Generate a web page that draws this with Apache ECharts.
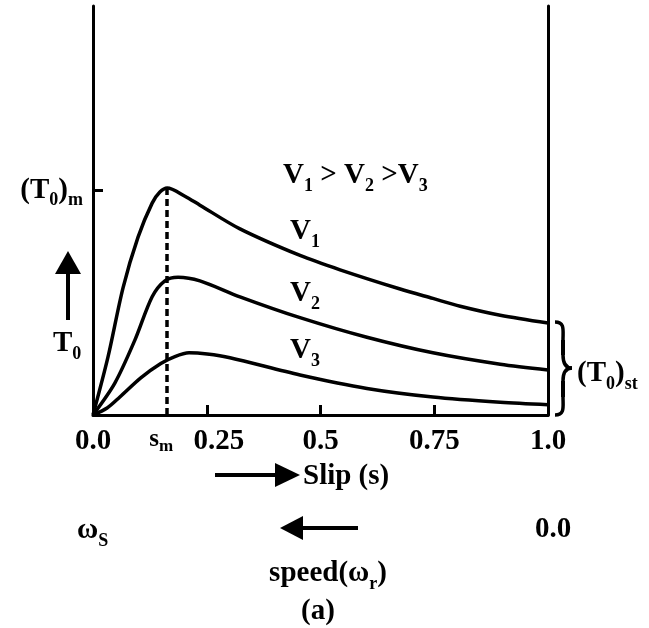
<!DOCTYPE html>
<html>
<head>
<meta charset="utf-8">
<script src="https://cdn.jsdelivr.net/npm/echarts@6/dist/echarts.min.js"></script>
<style>
  html, body { margin: 0; padding: 0; background: #fff; }
  #main { width: 649px; height: 628px; }
</style>
</head>
<body>
<div id="main"></div>
<script>
  // slip / torque points (torque in arbitrary units, axis 0..10)
  var slipV1 = [0, 0.033, 0.066, 0.099, 0.130, 0.147, 0.163, 0.202, 0.235, 0.323, 0.455, 0.543, 0.675, 0.747, 0.807, 0.895, 1.0];
  var torqueV1 = [0, 1.42, 3.11, 4.35, 5.18, 5.45, 5.55, 5.35, 5.13, 4.55, 3.90, 3.55, 3.08, 2.85, 2.66, 2.44, 2.25];
  var slipV2 = [0, 0.048, 0.092, 0.130, 0.158, 0.187, 0.235, 0.323, 0.455, 0.602, 0.747, 0.895, 1.0];
  var torqueV2 = [0, 0.78, 1.83, 2.89, 3.28, 3.37, 3.28, 2.89, 2.38, 1.90, 1.52, 1.24, 1.10];
  var slipV3 = [0, 0.031, 0.059, 0.105, 0.149, 0.180, 0.211, 0.251, 0.301, 0.455, 0.602, 0.747, 0.895, 1.0];
  var torqueV3 = [0, 0.17, 0.44, 0.91, 1.26, 1.43, 1.52, 1.49, 1.40, 0.98, 0.65, 0.44, 0.31, 0.25];

  var sM = 0.163;        // slip at max torque
  var tMax = 5.55;       // peak of V1
  var tMaxTick = 5.5;    // (T0)m tick
  var slipTicks = [0.25, 0.5, 0.75];
  var slipLabelValues = [0, sM, 0.25, 0.5, 0.75, 1];
  var slipLabelText = ['0.0', '{s|s}{m|m}', '{q|0.25}', '0.5', '0.75', '1.0'];

  var FONT = 'Liberation Serif';
  var rich = {
    n: { fontFamily: FONT, fontWeight: 'bold', fontSize: 29, color: '#000' },
    b: { fontFamily: FONT, fontWeight: 'bold', fontSize: 18, color: '#000', padding: [20, 0, 0, 0] },
    s: { fontFamily: FONT, fontWeight: 'bold', fontSize: 25, color: '#000', padding: [0, 0, 9, 0] },
    m: { fontFamily: FONT, fontWeight: 'bold', fontSize: 17, color: '#000', padding: [6, 12, 0, 0] },
    q: { fontFamily: FONT, fontWeight: 'bold', fontSize: 29, color: '#000', padding: [0, 0, 0, 24] }
  };

  function zip(xs, ys) {
    var out = [];
    for (var i = 0; i < xs.length; i++) out.push([xs[i], ys[i]]);
    return out;
  }

  function txt(text, x, y, align, vAlign) {
    return {
      type: 'text', silent: true,
      style: {
        text: text, x: x, y: y, rich: rich,
        font: 'bold 29px ' + FONT, fill: '#000',
        align: align || 'left', verticalAlign: vAlign || 'top'
      }
    };
  }
  function shaft(x1, y1, x2, y2) {
    return { type: 'line', silent: true, shape: { x1: x1, y1: y1, x2: x2, y2: y2 }, style: { stroke: '#000', lineWidth: 4 } };
  }
  function head(points) {
    return { type: 'polygon', silent: true, shape: { points: points }, style: { fill: '#000' } };
  }
  function curve(x1, y1, cpx1, cpy1, cpx2, cpy2, x2, y2) {
    return {
      type: 'bezierCurve', silent: true,
      shape: { x1: x1, y1: y1, cpx1: cpx1, cpy1: cpy1, cpx2: cpx2, cpy2: cpy2, x2: x2, y2: y2 },
      style: { stroke: '#000', lineWidth: 3.5, fill: null }
    };
  }

  var lineStyle = { color: '#000', width: 3.5 };
  var chart = echarts.init(document.getElementById('main'));
  chart.setOption({
    animation: false,
    backgroundColor: '#fff',
    grid: { left: 93, right: 101, top: 6, bottom: 213 },
    xAxis: {
      type: 'value', min: 0, max: 1,
      axisLine: { show: true, lineStyle: { color: '#000', width: 3 } },
      axisTick: { show: true, inside: true, length: 10, customValues: slipTicks, lineStyle: { color: '#000', width: 3 } },
      axisLabel: {
        show: true, margin: 12, customValues: slipLabelValues, rich: rich,
        fontFamily: FONT, fontWeight: 'bold', fontSize: 29, color: '#000',
        formatter: function (v) {
          for (var i = 0; i < slipLabelValues.length; i++) {
            if (Math.abs(slipLabelValues[i] - v) < 1e-6) return slipLabelText[i];
          }
          return '';
        }
      },
      splitLine: { show: false }
    },
    yAxis: [{
      type: 'value', min: 0, max: 10, position: 'left',
      axisLine: { show: true, lineStyle: { color: '#000', width: 3 } },
      axisTick: { show: true, inside: true, length: 10, customValues: [tMaxTick], lineStyle: { color: '#000', width: 3 } },
      axisLabel: {
        show: true, margin: 10, customValues: [tMaxTick], rich: rich,
        formatter: function () { return '{n|(T}{b|0}{n|)}{b|m}'; }
      },
      splitLine: { show: false }
    }, {
      type: 'value', min: 0, max: 10, position: 'right',
      axisLine: { show: true, lineStyle: { color: '#000', width: 3 } },
      axisTick: { show: false }, axisLabel: { show: false }, splitLine: { show: false }
    }],
    series: [{
      name: 'V1', type: 'line', data: zip(slipV1, torqueV1), smooth: 0.3,
      symbol: 'none', lineStyle: lineStyle,
      markLine: {
        silent: true, symbol: 'none', label: { show: false },
        lineStyle: { color: '#000', width: 3.5, type: [7, 4] },
        data: [[{ coord: [sM, 0] }, { coord: [sM, tMax] }]]
      }
    }, {
      name: 'V2', type: 'line', data: zip(slipV2, torqueV2), smooth: 0.3,
      symbol: 'none', lineStyle: lineStyle
    }, {
      name: 'V3', type: 'line', data: zip(slipV3, torqueV3), smooth: 0.3,
      symbol: 'none', lineStyle: lineStyle
    }],
    graphic: [
      txt('{n|V}{b|1}{n| > V}{b|2}{n| >V}{b|3}', 283, 157),
      txt('{n|V}{b|1}', 290, 213),
      txt('{n|V}{b|2}', 290, 275),
      txt('{n|V}{b|3}', 290, 332),
      txt('{n|T}{b|0}', 53, 325),
      shaft(68, 272, 68, 320), head([[55, 274], [81, 274], [68, 251]]),
      shaft(215, 475, 280, 475), head([[275, 463], [275, 487], [300, 475]]),
      txt('{n|Slip (s)}', 303, 462),
      txt('{n|ω}{b|S}', 77, 512),
      shaft(300, 528, 358, 528), head([[303, 516], [303, 540], [280, 528]]),
      txt('{n|0.0}', 553, 515, 'center'),
      txt('{n|speed(ω}{b|r}{n|)}', 328, 555, 'center'),
      txt('{n|(a)}', 318, 597, 'center'),
      // brace for (T0)st
      curve(555, 322, 565, 322, 563, 330, 563, 340),
      shaft(563, 340, 563, 355),
      curve(563, 355, 563, 363, 566, 368, 572, 368),
      curve(572, 368, 566, 368, 563, 373, 563, 381),
      shaft(563, 381, 563, 397),
      curve(563, 397, 563, 407, 565, 415, 555, 415),
      txt('{n|(T}{b|0}{n|)}{b|st}', 577, 355)
    ]
  });
</script>
</body>
</html>
